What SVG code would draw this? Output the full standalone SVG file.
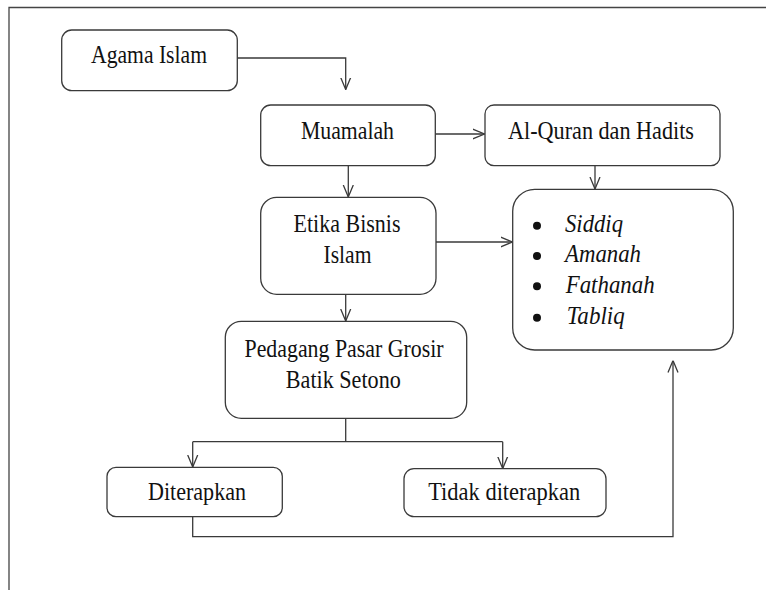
<svg xmlns="http://www.w3.org/2000/svg" width="766" height="590" viewBox="0 0 766 590">
<style>
.box{fill:#fff;stroke:#3a3a3a;stroke-width:1.3}
.t{font-family:'Liberation Serif','DejaVu Serif',serif;font-size:25px;fill:#111;text-anchor:middle}
.i{font-family:'Liberation Serif','DejaVu Serif',serif;font-size:25px;font-style:italic;fill:#111}
.c{fill:none;stroke:#3a3a3a;stroke-width:1.3}
.frame{fill:none;stroke:#444;stroke-width:1.3}
</style>
<defs>
<marker id="arr" viewBox="0 0 12 12" markerWidth="12" markerHeight="12" refX="12" refY="6" orient="auto" markerUnits="userSpaceOnUse">
<path d="M0,1 L12,6 L0,11" fill="none" stroke="#3a3a3a" stroke-width="1.3"/>
</marker>
</defs>
<rect width="766" height="590" fill="#fff"/>
<path class="frame" d="M766,7.5 L9,7.5 L9,590"/>
<g id="connectors">
<path class="c" d="M237,58 H345.7 V89.5" marker-end="url(#arr)"/>
<path class="c" d="M435,134 H484.5" marker-end="url(#arr)"/>
<path class="c" d="M348.3,165.7 V197" marker-end="url(#arr)"/>
<path class="c" d="M595,165.7 V189" marker-end="url(#arr)"/>
<path class="c" d="M436,242 H512.5" marker-end="url(#arr)"/>
<path class="c" d="M345.7,294.3 V321" marker-end="url(#arr)"/>
<path class="c" d="M345.7,418.3 V441.7"/>
<path class="c" d="M192.7,441.7 H502.7"/>
<path class="c" d="M192.7,441.7 V467" marker-end="url(#arr)"/>
<path class="c" d="M502.7,441.7 V468.5" marker-end="url(#arr)"/>
<path class="c" d="M192.7,516.7 V536.7 H673 V360.5" marker-end="url(#arr)"/>
</g>
<g id="agama">
<rect class="box" x="61.7" y="30" width="175.6" height="60.7" rx="10"/>
<text class="t" font-family="Liberation Serif, DejaVu Serif, serif" x="149" y="62.5" textLength="116" lengthAdjust="spacingAndGlyphs">Agama Islam</text>
</g>
<g id="muamalah">
<rect class="box" x="260.7" y="105" width="174.6" height="60.7" rx="10"/>
<text class="t" x="347.5" y="138.5" textLength="93" lengthAdjust="spacingAndGlyphs">Muamalah</text>
</g>
<g id="alquran">
<rect class="box" x="485" y="105" width="235" height="60.7" rx="9"/>
<text class="t" x="601" y="138.5" textLength="186" lengthAdjust="spacingAndGlyphs">Al-Quran dan Hadits</text>
</g>
<g id="sifat">
<rect class="box" x="512.7" y="189.3" width="220.6" height="160.7" rx="22"/>
<circle cx="537" cy="225.7" r="4" fill="#111"/>
<circle cx="537" cy="256" r="4" fill="#111"/>
<circle cx="537" cy="286.3" r="4" fill="#111"/>
<circle cx="537" cy="317.7" r="4" fill="#111"/>
<text class="i" x="565" y="231.7" textLength="58" lengthAdjust="spacingAndGlyphs">Siddiq</text>
<text class="i" x="565" y="261.7" textLength="76" lengthAdjust="spacingAndGlyphs">Amanah</text>
<text class="i" x="565.7" y="292.7" textLength="89" lengthAdjust="spacingAndGlyphs">Fathanah</text>
<text class="i" x="566.7" y="324" textLength="58" lengthAdjust="spacingAndGlyphs">Tabliq</text>
</g>
<g id="etika">
<rect class="box" x="260.7" y="197.3" width="175.3" height="97" rx="16"/>
<text class="t" x="347" y="231.7" textLength="107" lengthAdjust="spacingAndGlyphs">Etika Bisnis</text>
<text class="t" x="347.5" y="263" textLength="48" lengthAdjust="spacingAndGlyphs">Islam</text>
</g>
<g id="pedagang">
<rect class="box" x="225.3" y="321.3" width="241.4" height="97" rx="16"/>
<text class="t" x="344" y="356.7" textLength="199" lengthAdjust="spacingAndGlyphs">Pedagang Pasar Grosir</text>
<text class="t" x="343.3" y="388" textLength="115" lengthAdjust="spacingAndGlyphs">Batik Setono</text>
</g>
<g id="diterapkan">
<rect class="box" x="107" y="467.3" width="175.3" height="49.4" rx="9"/>
<text class="t" x="197" y="500" textLength="98" lengthAdjust="spacingAndGlyphs">Diterapkan</text>
</g>
<g id="tidak">
<rect class="box" x="404" y="468.7" width="202" height="48" rx="10"/>
<text class="t" x="504.2" y="500" textLength="152" lengthAdjust="spacingAndGlyphs">Tidak diterapkan</text>
</g>
</svg>
